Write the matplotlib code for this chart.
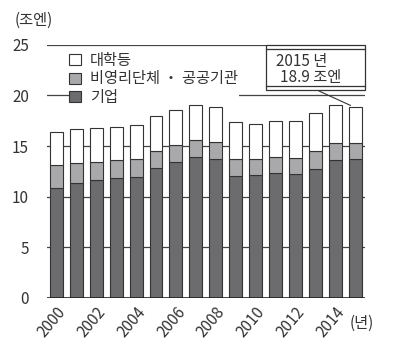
import matplotlib
matplotlib.use("Agg")
import matplotlib.pyplot as plt
from matplotlib.patches import Patch, Rectangle
from matplotlib.lines import Line2D
import numpy as np

plt.rcParams['font.family'] = ['Noto Sans CJK KR', 'DejaVu Sans']

years = list(range(2000, 2016))
company = [10.9, 11.4, 11.6, 11.8, 11.9, 12.8, 13.4, 13.9, 13.7, 12.0, 12.1, 12.3, 12.2, 12.7, 13.6, 13.7]
nonprofit = [2.2, 1.9, 1.8, 1.8, 1.8, 1.7, 1.75, 1.7, 1.75, 1.7, 1.6, 1.6, 1.6, 1.8, 1.75, 1.65]
university = [3.25, 3.35, 3.35, 3.25, 3.35, 3.5, 3.4, 3.45, 3.4, 3.65, 3.5, 3.55, 3.65, 3.75, 3.7, 3.55]
labels = ['대학등', '비영리단체 ・ 공공기관', '기업']

c_dark = '#6c6c6e'
c_mid = '#a9a9ab'
c_white = '#ffffff'
edge = '#333333'

fig = plt.figure(figsize=(4.15, 3.53), dpi=100)
ax = fig.add_axes([0.113, 0.156, 0.767, 0.717])

x = np.arange(len(years))
w = 0.65
company = np.array(company)
nonprofit = np.array(nonprofit)
university = np.array(university)

ax.bar(x, company, w, color=c_dark, edgecolor=edge, lw=0.8, zorder=3)
ax.bar(x, nonprofit, w, bottom=company, color=c_mid, edgecolor=edge, lw=0.8, zorder=3)
ax.bar(x, university, w, bottom=company + nonprofit, color=c_white, edgecolor=edge, lw=0.8, zorder=3)

ax.set_xlim(-0.47, 15.49)
ax.set_ylim(0, 25)
ax.set_yticks([0, 5, 10, 15, 20, 25])
for v in [5, 10, 15, 20, 25]:
    ax.axhline(v, color='#444444', lw=0.9, zorder=1)
ax.axhline(0, color='#222222', lw=1.2, zorder=4)
for s in ax.spines.values():
    s.set_visible(False)
ax.tick_params(axis='y', length=0, pad=13, labelsize=11, labelcolor='#333333')
ax.set_xticks(x[::2])
ax.set_xticklabels([str(y) for y in years[::2]], rotation=50, ha='right',
                   rotation_mode='anchor', fontsize=11, color='#333333')
ax.tick_params(axis='x', length=0, pad=4)

handles = [Patch(facecolor=c_white, edgecolor=edge, lw=0.8),
           Patch(facecolor=c_mid, edgecolor=edge, lw=0.8),
           Patch(facecolor=c_dark, edgecolor=edge, lw=0.8)]
leg = ax.legend(handles, labels, loc='upper left', bbox_to_anchor=(0.068, 0.975),
                frameon=True, framealpha=1, edgecolor='none', fancybox=False,
                fontsize=11, handlelength=0.75, handleheight=0.75, handletextpad=0.6,
                labelspacing=0.1, borderpad=0.05, borderaxespad=0)
for t in leg.get_texts():
    t.set_color('#333333')
# keep legend above grid lines but under the bars
leg.set_zorder(2)

# annotation box
box = Rectangle((0.688, 0.822), 0.312, 0.178, transform=ax.transAxes,
                facecolor='white', edgecolor='#333333', lw=0.9, zorder=6, clip_on=False)
ax.add_patch(box)
for yy in [0.983, 0.838]:
    ax.add_line(Line2D([0.688, 1.0], [yy, yy], transform=ax.transAxes, color='#333333',
                       lw=0.9, zorder=7, clip_on=False))
ax.text(0.80, 0.935, '2015 년', transform=ax.transAxes, ha='center', va='center',
        fontsize=11, color='#333333', zorder=8)
ax.text(0.83, 0.87, '18.9 조엔', transform=ax.transAxes, ha='center', va='center',
        fontsize=11, color='#333333', zorder=8)
top15 = company[-1] + nonprofit[-1] + university[-1]
ax.annotate('', xy=(15 - 0.12, top15), xycoords='data', xytext=(0.847, 0.822),
            textcoords='axes fraction',
            arrowprops=dict(arrowstyle='-', color='#333333', lw=0.8), zorder=6)

fig.text(0.035, 0.93, '(조엔)', fontsize=11, color='#333333')
fig.text(0.842, 0.07, '(년)', fontsize=11, color='#333333')

fig.savefig('out.png', dpi=100)
